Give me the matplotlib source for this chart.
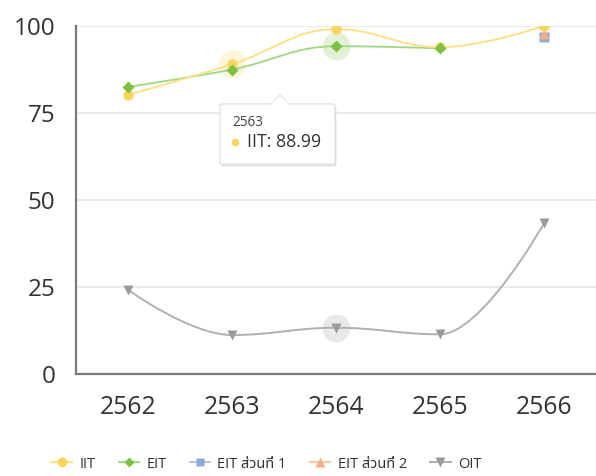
import matplotlib
matplotlib.use("Agg")
import matplotlib.pyplot as plt
from matplotlib.path import Path
from matplotlib.patches import PathPatch, FancyBboxPatch, Polygon
from matplotlib.lines import Line2D
from matplotlib import font_manager as fm
from matplotlib.ft2font import FT2Font

# ---------------- data ----------------
years = ["2562", "2563", "2564", "2565", "2566"]
iit = [80.2, 88.99, 99.1, 93.9, 100.0]
eit = [82.5, 87.5, 94.2, 93.6, None]
eit_part1 = [None, None, None, None, 96.9]
eit_part2 = [None, None, None, None, 97.7]
oit = [24.2, 11.2, 13.3, 11.4, 43.3]
series_names = ["IIT", "EIT", "EIT ส่วนที่ 1", "EIT ส่วนที่ 2", "OIT"]
y_ticks = [0, 25, 50, 75, 100]
tooltip_year = "2563"
tooltip_text = "IIT: 88.99"

# ---------------- fonts ----------------
thai_family = None
for pref in ["Noto Sans Thai", "Noto Sans Thai UI", "Loma", "Garuda", "Sarabun", "Kanit", "Tlwg Typo"]:
    try:
        fm.findfont(pref, fallback_to_default=False)
        thai_family = pref
        break
    except Exception:
        pass
if thai_family is None:
    for f in fm.fontManager.ttflist:
        try:
            if ord("ส") in FT2Font(f.fname).get_charmap():
                thai_family = f.name
                break
        except Exception:
            pass
families = ["Open Sans"] + ([thai_family] if thai_family else []) + ["DejaVu Sans"]
plt.rcParams["font.family"] = families

# ---------------- style ----------------
C_IIT, C_IIT_LINE = "#fdd35f", "#fde08a"
C_EIT, C_EIT_LINE = "#7cc142", "#a6d889"
C_E1 = "#8eaadb"
C_E2 = "#f4b183"
C_OIT, C_OIT_LINE = "#9a9a9a", "#b0b0b0"
TXT = "#333333"

fig = plt.figure(figsize=(5.96, 4.76), dpi=100)
ax = fig.add_axes([76 / 596, 102 / 476, 520 / 596, 348 / 476])
ax.set_xlim(-0.5, 4.5)
ax.set_ylim(0, 100)


def spline_path(xs, ys, smoothing=1.5):
    pts = [(x, y) for x, y in zip(xs, ys) if y is not None]
    n = len(pts)
    lc = [None] * n
    rc = [None] * n
    denom = smoothing + 1
    for i in range(1, n - 1):
        px, py = pts[i]
        lx, ly = pts[i - 1]
        nx, ny = pts[i + 1]
        lcx = (smoothing * px + lx) / denom
        lcy = (smoothing * py + ly) / denom
        rcx = (smoothing * px + nx) / denom
        rcy = (smoothing * py + ny) / denom
        corr = 0
        if rcx != lcx:
            corr = ((rcy - lcy) * (rcx - px)) / (rcx - lcx) + py - rcy
        lcy += corr
        rcy += corr
        if lcy > ly and lcy > py:
            lcy = max(ly, py); rcy = 2 * py - lcy
        elif lcy < ly and lcy < py:
            lcy = min(ly, py); rcy = 2 * py - lcy
        if rcy > ny and rcy > py:
            rcy = max(ny, py); lcy = 2 * py - rcy
        elif rcy < ny and rcy < py:
            rcy = min(ny, py); lcy = 2 * py - rcy
        lc[i] = (lcx, lcy)
        rc[i] = (rcx, rcy)
    verts = [pts[0]]
    codes = [Path.MOVETO]
    for i in range(1, n):
        c1 = rc[i - 1] if rc[i - 1] else pts[i - 1]
        c2 = lc[i] if lc[i] else pts[i]
        verts += [c1, c2, pts[i]]
        codes += [Path.CURVE4] * 3
    return Path(verts, codes)


xpos = list(range(len(years)))

# grid
for t in y_ticks[1:]:
    ax.axhline(t, color="#e6e6e6", lw=1.2, zorder=0)

# halos (hover state)
ax.plot([1], [iit[1]], "o", ms=20, color=C_IIT, alpha=0.22, mec="none", zorder=2)
ax.plot([2], [eit[2]], "o", ms=20, color=C_EIT, alpha=0.22, mec="none", zorder=2)
ax.plot([2], [oit[2]], "o", ms=20, color=C_OIT, alpha=0.22, mec="none", zorder=2)

# lines
for vals, lc_, z in [(oit, C_OIT_LINE, 3), (eit, C_EIT_LINE, 4), (iit, C_IIT_LINE, 5)]:
    ax.add_patch(PathPatch(spline_path(xpos, vals), fill=False, ec=lc_, lw=1.4, zorder=z))

# markers
def mk(vals, marker, color, ms, z):
    xs = [x for x, v in zip(xpos, vals) if v is not None]
    ys = [v for v in vals if v is not None]
    ax.plot(xs, ys, ls="none", marker=marker, color=color, ms=ms, mec="none", zorder=z)

mk(oit, "v", C_OIT, 7.5, 6)
mk(eit_part1, "s", C_E1, 7, 6)
mk(eit_part2, "^", C_E2, 7, 6.5)
mk(iit, "o", C_IIT, 7.5, 7)
mk(eit, "D", C_EIT, 6, 8)

# axes styling
for s in ["top", "right"]:
    ax.spines[s].set_visible(False)
for s in ["left", "bottom"]:
    ax.spines[s].set_color("#7a7a7a")
    ax.spines[s].set_linewidth(1.6)
ax.set_xticks(xpos)
ax.set_xticklabels(years)
ax.set_yticks(y_ticks)
ax.set_yticklabels([str(t) for t in y_ticks])
ax.tick_params(axis="both", length=0, colors=TXT)
ax.tick_params(axis="y", pad=15, labelsize=17.5)
ax.tick_params(axis="x", pad=15, labelsize=17.8)
ax.set_facecolor("white")

# tooltip
tx0, tx1 = 0.885, 1.99
ty0, ty1 = 60.3, 77.6
shadow = FancyBboxPatch((tx0 + 0.015, ty0 - 0.7), tx1 - tx0, ty1 - ty0,
                        boxstyle="round,pad=0,rounding_size=0.02", fc="#000000", alpha=0.10,
                        ec="none", zorder=9, mutation_aspect=25)
ax.add_patch(shadow)
box = FancyBboxPatch((tx0, ty0), tx1 - tx0, ty1 - ty0,
                     boxstyle="round,pad=0,rounding_size=0.02", fc="white",
                     ec="#dddddd", lw=0.8, zorder=10, mutation_aspect=25)
ax.add_patch(box)
ax.add_patch(Polygon([(1.38, ty1), (1.46, ty1 + 2.6), (1.54, ty1)], closed=True,
                     fc="white", ec="#dddddd", lw=0.8, zorder=10.5))
ax.add_patch(Polygon([(1.37, ty1 - 0.3), (1.46, ty1 + 2.3), (1.55, ty1 - 0.3)], closed=True,
                     fc="white", ec="none", zorder=11))
ax.text(1.0, 72.2, tooltip_year, fontsize=9.8, color="#444444", va="center", ha="left", zorder=12)
ax.plot([1.03], [66.8], "o", ms=5.5, color=C_IIT, mec="none", zorder=12)
ax.text(1.144, 66.8, tooltip_text, fontsize=12.8, color="#333333", va="center", ha="left", zorder=12)

# legend
handles = [
    Line2D([], [], color=C_IIT_LINE, lw=1.5, marker="o", mfc=C_IIT, mec="none", ms=7),
    Line2D([], [], color=C_EIT_LINE, lw=1.5, marker="D", mfc=C_EIT, mec="none", ms=5),
    Line2D([], [], color="#b7c8e8", lw=1.5, marker="s", mfc=C_E1, mec="none", ms=6),
    Line2D([], [], color="#f7c9a8", lw=1.5, marker="^", mfc=C_E2, mec="none", ms=7),
    Line2D([], [], color=C_OIT_LINE, lw=1.5, marker="v", mfc=C_OIT, mec="none", ms=7),
]
fig.legend(handles, series_names, loc="center", bbox_to_anchor=(0.447, 0.025), ncol=5,
           frameon=False, fontsize=10.5, handlelength=1.4, handletextpad=0.5,
           columnspacing=1.6, labelcolor=TXT)

fig.savefig("out.png", dpi=100, facecolor="white")
